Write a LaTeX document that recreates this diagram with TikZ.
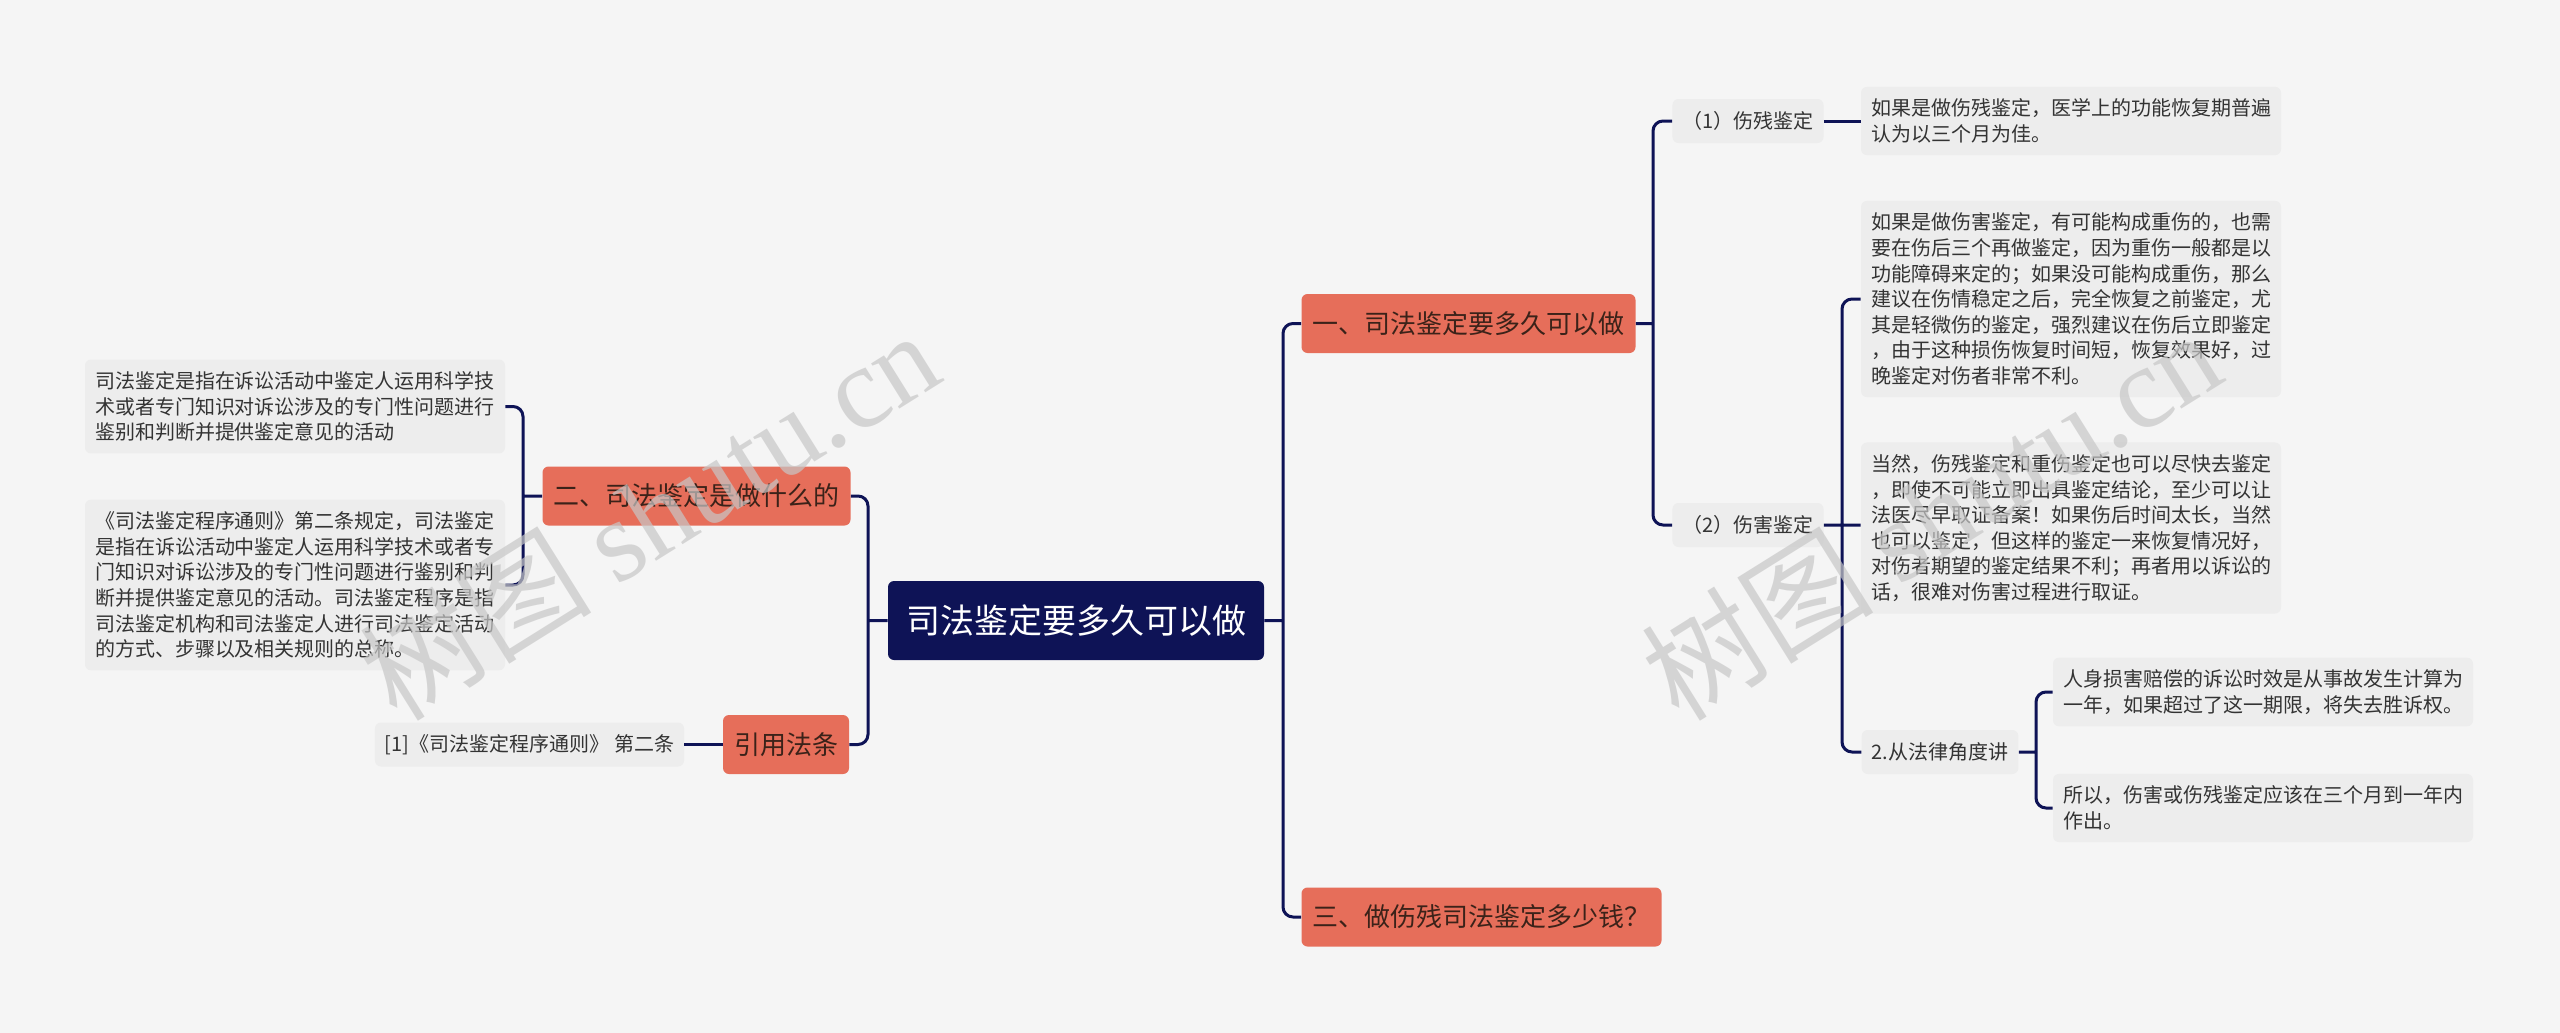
\documentclass[tikz,border=0pt]{standalone}
\usepackage{fontspec}
\setmainfont{Noto Sans CJK SC}
\newfontfamily\wmfont{Liberation Serif}
\usepackage{xcolor}
\usetikzlibrary{positioning, calc}
\definecolor{bgcol}{HTML}{F5F5F5}
\definecolor{navy}{HTML}{0E1356}
\definecolor{salmon}{HTML}{E66E5A}
\definecolor{boxgray}{HTML}{EDEDED}
\definecolor{inkdark}{HTML}{3B2219}
\definecolor{inkgray}{HTML}{333333}
\tikzset{
    x=0.5pt, y=-0.5pt, % one unit is one pixel of the original, y runs down
    root/.style={fill=navy, text=white, rounded corners=3pt, font=\fontsize{17}{20}\selectfont, minimum width=188pt, minimum height=39.5pt}, % the centre topic
    branch/.style={fill=salmon, text=inkdark, rounded corners=3pt, font=\fontsize{13}{15}\selectfont, minimum height=29.5pt, inner xsep=5.5pt}, % first level
    leaf/.style={fill=boxgray, text=inkgray, rounded corners=3pt, font=\fontsize{10}{12}\selectfont, minimum height=22pt, inner xsep=5pt}, % short labels
    note/.style={fill=boxgray, text=inkgray, rounded corners=3pt, font=\fontsize{10}{12.8}\selectfont, text width=200pt, align=left, inner xsep=5pt, inner ysep=6pt}, % long texts
    link/.style={draw=navy, line width=1.5pt, rounded corners=5pt}, % connectors
    wmark/.style={text=black!22, opacity=0.7, rotate=32, font=\fontsize{58}{60}\selectfont}, % watermark
}

\begin{document}
\begin{tikzpicture}
    \fill[bgcol] (0,0) rectangle (2560,1033);
    \useasboundingbox (0,0) rectangle (2560,1033);

    % centre and first level
    \node[root] (root) at (1076,620.5) {司法鉴定要多久可以做};
    \node[branch] (b1) at (1468.5,323.5) {一、司法鉴定要多久可以做};
    \node[branch] (b2) at (696.5,496) {二、司法鉴定是做什么的};
    \node[branch] (b3) at (1481.5,917) {三、做伤残司法鉴定多少钱？};
    \node[branch] (cite) at (786,744.5) {引用法条};

    % left side
    \node[note] (L1) at (295,406.5) {司法鉴定是指在诉讼活动中鉴定人运用科学技\\术或者专门知识对诉讼涉及的专门性问题进行\\鉴别和判断并提供鉴定意见的活动};
    \node[note] (L2) at (295,585) {《司法鉴定程序通则》第二条规定，司法鉴定\\是指在诉讼活动中鉴定人运用科学技术或者专\\门知识对诉讼涉及的专门性问题进行鉴别和判\\断并提供鉴定意见的活动。司法鉴定程序是指\\司法鉴定机构和司法鉴定人进行司法鉴定活动\\的方式、步骤以及相关规则的总称。};
    \node[leaf, minimum width=154.5pt] (ref) at (529.5,744.5) {[1]《司法鉴定程序通则》 第二条};

    % right side
    \node[leaf, minimum width=75pt] (s1) at (1748,121) {（1）伤残鉴定};
    \node[leaf, minimum width=75pt] (s2) at (1748,525) {（2）伤害鉴定};
    \node[leaf, minimum width=78pt] (s3) at (1940,752) {2.从法律角度讲};
    \node[note] (R1) at (2071,121) {如果是做伤残鉴定，医学上的功能恢复期普遍\\认为以三个月为佳。};
    \node[note] (R2) at (2071,299) {如果是做伤害鉴定，有可能构成重伤的，也需\\要在伤后三个再做鉴定，因为重伤一般都是以\\功能障碍来定的；如果没可能构成重伤，那么\\建议在伤情稳定之后，完全恢复之前鉴定，尤\\其是轻微伤的鉴定，强烈建议在伤后立即鉴定\\，由于这种损伤恢复时间短，恢复效果好，过\\晚鉴定对伤者非常不利。};
    \node[note] (R3) at (2071,528) {当然，伤残鉴定和重伤鉴定也可以尽快去鉴定\\，即使不可能立即出具鉴定结论，至少可以让\\法医尽早取证备案！如果伤后时间太长，当然\\也可以鉴定，但这样的鉴定一来恢复情况好，\\对伤者期望的鉴定结果不利；再者用以诉讼的\\话，很难对伤害过程进行取证。};
    \node[note] (R4) at (2263,692) {人身损害赔偿的诉讼时效是从事故发生计算为\\一年，如果超过了这一期限，将失去胜诉权。};
    \node[note] (R5) at (2263,808) {所以，伤害或伤残鉴定应该在三个月到一年内\\作出。};

    % joints
    \coordinate (jR) at (1283,620.5);
    \coordinate (jL) at (868,620.5);
    \coordinate (j2) at (523,496);
    \coordinate (j1) at (1653,323.5);
    \coordinate (j3) at (1842,525);
    \coordinate (j4) at (2036,752);

    \draw[link] (root.east) -- (jR) (jR) |- (b1.west) (jR) |- (b3.west);
    \draw[link] (root.west) -- (jL) (jL) |- (b2.east) (jL) |- (cite.east);
    \draw[link] (b2.west) -- (j2) (j2) |- (L1.east) (j2) |- (L2.east);
    \draw[link] (cite.west) -- (ref.east);
    \draw[link] (b1.east) -- (j1) (j1) |- (s1.west) (j1) |- (s2.west);
    \draw[link] (s1.east) -- (R1.west);
    \draw[link] (s2.east) -- (j3 -| R3.west) (j3) |- (R2.west) (j3) |- (s3.west);
    \draw[link] (s3.east) -- (j4) (j4) |- (R4.west) (j4) |- (R5.west);

    \node[wmark] (wm1) at (649,514) {树图 {\wmfont shutu.cn}};
    \node[wmark] (wm2) at (1931,514) {树图 {\wmfont shutu.cn}};
\end{tikzpicture}
\end{document}
